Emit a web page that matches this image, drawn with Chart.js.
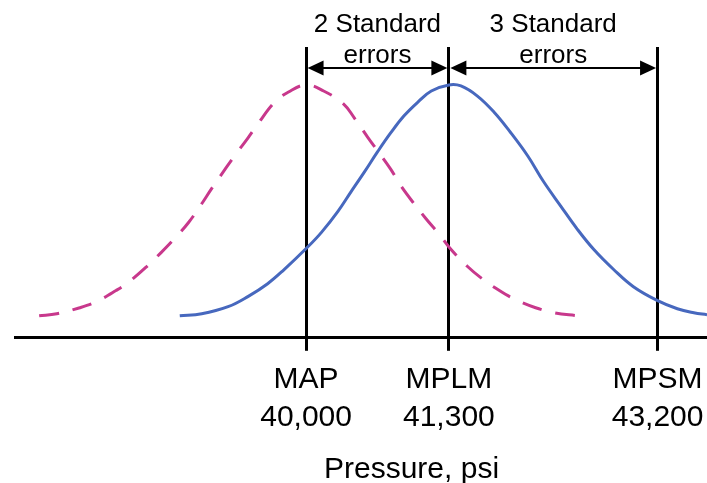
<!DOCTYPE html>
<html>
<head>
<meta charset="utf-8">
<script src="https://cdn.jsdelivr.net/npm/chart.js@4"></script>
<style>
    html, body { margin: 0; padding: 0; background: #fff; }
    #wrap { width: 707px; height: 483px; }
</style>
</head>
<body>
<div id="wrap"><canvas id="pressureChart"></canvas></div>
<script>
// Marked pressures on the axis
const markValues = [40000, 41300, 43200];
const markNames = ["MAP", "MPLM", "MPSM"];
const markLabels = ["40,000", "41,300", "43,200"];

// Standard error brackets (from mark, to mark, text)
const spanFrom = [40000, 41300];
const spanTo = [41300, 43200];
const spanText = [["2 Standard", "errors"], ["3 Standard", "errors"]];

// MAP curve (dashed)
const mapPsi = [37570, 37730, 37940, 38090, 38270, 38390, 38560, 38680, 38820, 38930,
    39050, 39140, 39260, 39350, 39470, 39560, 39710, 39840, 40000, 40160,
    40340, 40440, 40560, 40660, 40770, 40860, 40980, 41090, 41220, 41320,
    41470, 41590, 41760, 41890, 42090, 42260, 42470];
const mapValues = [0.087, 0.095, 0.119, 0.143, 0.187, 0.222, 0.286, 0.337, 0.401, 0.456,
    0.530, 0.590, 0.665, 0.720, 0.790, 0.845, 0.930, 0.972, 1.0, 0.976,
    0.925, 0.869, 0.794, 0.734, 0.667, 0.603, 0.532, 0.472, 0.405, 0.349,
    0.282, 0.238, 0.187, 0.155, 0.119, 0.099, 0.087];

// MPLM curve (solid)
const mplmPsi = [38850, 39050, 39290, 39470, 39650, 39800, 40010, 40140, 40290, 40410,
    40530, 40650, 40770, 40890, 41020, 41140, 41300, 41410, 41560, 41710,
    41860, 42020, 42160, 42320, 42470, 42620, 42800, 42980, 43200, 43380,
    43530, 43650];
const mplmValues = [0.087, 0.095, 0.123, 0.163, 0.214, 0.270, 0.357, 0.417, 0.500, 0.578,
    0.655, 0.735, 0.810, 0.877, 0.933, 0.976, 1.0, 0.996, 0.956, 0.893,
    0.813, 0.718, 0.619, 0.520, 0.429, 0.349, 0.270, 0.202, 0.147, 0.115,
    0.099, 0.091];

const FONT = "'Liberation Sans', Arial, sans-serif";

function toPoints(xs, ys) {
    return xs.map((x, i) => ({ x: x, y: ys[i] }));
}

function arrowHead(ctx, x, y, dir) {
    ctx.beginPath();
    ctx.moveTo(x, y);
    ctx.lineTo(x - dir * 16, y - 7.5);
    ctx.lineTo(x - dir * 16, y + 7.5);
    ctx.closePath();
    ctx.fill();
}

// Brackets above the chart and the axis title
const annotations = {
    id: "annotations",
    afterDraw(chart) {
        const ctx = chart.ctx;
        const xs = chart.scales.x;
        const top = chart.chartArea.top;
        ctx.save();
        ctx.fillStyle = "#000";
        ctx.strokeStyle = "#000";
        ctx.lineWidth = 2;
        ctx.textAlign = "center";
        ctx.textBaseline = "alphabetic";
        ctx.font = "26px " + FONT;
        spanFrom.forEach((from, i) => {
            const x1 = xs.getPixelForValue(from) + 1.5;
            const x2 = xs.getPixelForValue(spanTo[i]) - 1.5;
            const y = top + 21;
            ctx.beginPath();
            ctx.moveTo(x1 + 10, y);
            ctx.lineTo(x2 - 10, y);
            ctx.stroke();
            arrowHead(ctx, x1, y, -1);
            arrowHead(ctx, x2, y, 1);
            const cx = (x1 + x2) / 2;
            ctx.fillText(spanText[i][0], cx, 32);
            ctx.fillText(spanText[i][1], cx, 63);
        });
        ctx.font = "30px " + FONT;
        ctx.fillText("Pressure, psi", xs.getPixelForValue(40960), 478);
        ctx.restore();
    }
};

const ctx = document.getElementById("pressureChart").getContext("2d");

new Chart(ctx, {
    type: "line",
    data: {
        datasets: [
            {
                label: "MPLM",
                data: toPoints(mplmPsi, mplmValues),
                borderColor: "#4768BE",
                borderWidth: 3,
                pointRadius: 0,
                tension: 0.4,
                fill: false
            },
            {
                label: "MAP",
                data: toPoints(mapPsi, mapValues),
                borderColor: "#C8388C",
                borderWidth: 3,
                borderDash: [20, 14],
                pointRadius: 0,
                tension: 0.4,
                fill: false
            }
        ]
    },
    options: {
        responsive: true,
        maintainAspectRatio: false,
        animation: false,
        layout: { padding: { left: 15, right: 0, top: 47, bottom: 36 } },
        plugins: {
            legend: { display: false },
            tooltip: { enabled: false }
        },
        scales: {
            x: {
                type: "linear",
                min: 37350,
                max: 43650,
                z: 1,
                afterBuildTicks: scale => {
                    scale.ticks = markValues.map(v => ({ value: v }));
                },
                // labels stay inside the canvas, no extra side padding needed
                afterFit: scale => {
                    scale.paddingLeft = 0;
                    scale.paddingRight = 0;
                },
                ticks: {
                    autoSkip: false,
                    maxRotation: 0,
                    color: "#000",
                    padding: 10,
                    font: { family: FONT, size: 30, lineHeight: 1.27 },
                    callback: value => {
                        const i = markValues.indexOf(value);
                        return i < 0 ? "" : [markNames[i], markLabels[i]];
                    }
                },
                grid: {
                    color: "#000",
                    lineWidth: 3,
                    tickLength: 13,
                    drawTicks: true
                },
                border: { display: true, color: "#000", width: 3 }
            },
            y: {
                display: false,
                min: 0,
                max: 1.15
            }
        }
    },
    plugins: [annotations]
});
</script>
</body>
</html>
